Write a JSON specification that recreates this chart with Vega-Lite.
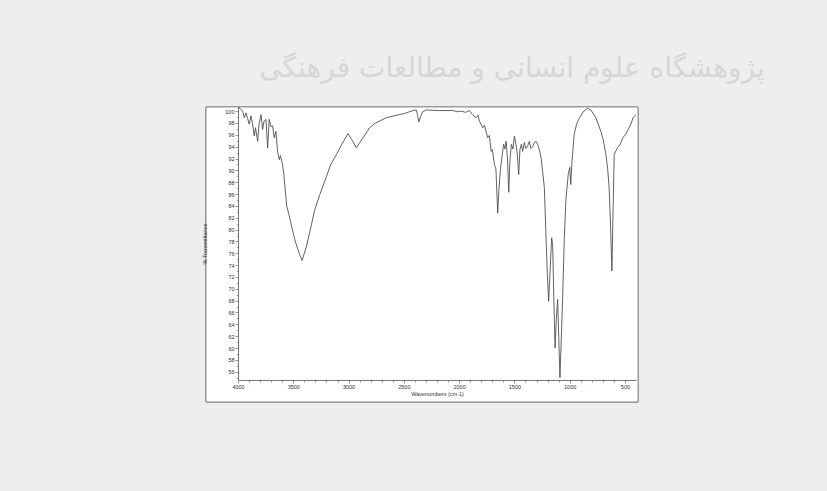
{
  "$schema": "https://vega.github.io/schema/vega-lite/v6.json",
  "autosize": {"type": "none"},
  "width": 398,
  "height": 273,
  "padding": {"left": 238, "top": 107, "right": 191, "bottom": 111},
  "background": "#eeeeee",
  "config": {"view": {"stroke": null}, "font": "Liberation Sans"},
  "title": {
    "text": "پژوهشگاه علوم انسانی و مطالعات فرهنگی",
    "font": "DejaVu Sans",
    "fontSize": 28,
    "fontWeight": "normal",
    "color": "#d6d6d6",
    "anchor": "middle",
    "dx": 75,
    "offset": 24,
    "zindex": 0
  },
  "data": {
    "values": [
      {"w": 4000, "t": 100.6}, {"w": 3982, "t": 100.5}, {"w": 3958, "t": 100.0}, {"w": 3943, "t": 98.9},
      {"w": 3928, "t": 99.7}, {"w": 3914, "t": 98.8}, {"w": 3898, "t": 97.8}, {"w": 3883, "t": 99.2},
      {"w": 3869, "t": 97.9}, {"w": 3853, "t": 95.8}, {"w": 3842, "t": 97.2}, {"w": 3822, "t": 94.9},
      {"w": 3810, "t": 97.8}, {"w": 3792, "t": 99.4}, {"w": 3777, "t": 96.9}, {"w": 3765, "t": 98.3},
      {"w": 3747, "t": 98.6}, {"w": 3732, "t": 93.8}, {"w": 3718, "t": 98.6}, {"w": 3702, "t": 97.4},
      {"w": 3687, "t": 97.5}, {"w": 3672, "t": 95.5}, {"w": 3657, "t": 96.6}, {"w": 3642, "t": 93.2},
      {"w": 3627, "t": 91.8}, {"w": 3616, "t": 92.5}, {"w": 3597, "t": 91.0}, {"w": 3585, "t": 89.3},
      {"w": 3560, "t": 84.0}, {"w": 3540, "t": 82.6}, {"w": 3513, "t": 80.4}, {"w": 3486, "t": 78.3},
      {"w": 3458, "t": 76.6}, {"w": 3436, "t": 75.5}, {"w": 3420, "t": 74.8}, {"w": 3404, "t": 75.8},
      {"w": 3380, "t": 77.2}, {"w": 3350, "t": 79.7}, {"w": 3305, "t": 83.4}, {"w": 3260, "t": 85.9},
      {"w": 3199, "t": 89.0}, {"w": 3161, "t": 91.0}, {"w": 3109, "t": 92.7}, {"w": 3061, "t": 94.4},
      {"w": 3005, "t": 96.2}, {"w": 2971, "t": 95.2}, {"w": 2929, "t": 93.8}, {"w": 2899, "t": 94.7},
      {"w": 2869, "t": 95.5}, {"w": 2809, "t": 97.2}, {"w": 2764, "t": 97.9}, {"w": 2658, "t": 98.9},
      {"w": 2568, "t": 99.3}, {"w": 2493, "t": 99.6}, {"w": 2418, "t": 100.1}, {"w": 2387, "t": 100.2},
      {"w": 2376, "t": 99.3}, {"w": 2364, "t": 98.2}, {"w": 2348, "t": 99.1}, {"w": 2330, "t": 99.9},
      {"w": 2297, "t": 100.2}, {"w": 2177, "t": 100.1}, {"w": 2057, "t": 100.1}, {"w": 2014, "t": 99.9},
      {"w": 1978, "t": 100.0}, {"w": 1942, "t": 99.8}, {"w": 1906, "t": 100.1}, {"w": 1879, "t": 99.4},
      {"w": 1846, "t": 98.9}, {"w": 1829, "t": 99.3}, {"w": 1816, "t": 98.3}, {"w": 1786, "t": 97.2},
      {"w": 1771, "t": 97.6}, {"w": 1741, "t": 95.5}, {"w": 1726, "t": 95.9}, {"w": 1710, "t": 93.2},
      {"w": 1699, "t": 93.5}, {"w": 1681, "t": 91.0}, {"w": 1667, "t": 90.2}, {"w": 1651, "t": 82.8},
      {"w": 1640, "t": 86.8}, {"w": 1626, "t": 90.2}, {"w": 1613, "t": 92.2}, {"w": 1597, "t": 94.4},
      {"w": 1586, "t": 93.6}, {"w": 1575, "t": 94.9}, {"w": 1563, "t": 92.2}, {"w": 1551, "t": 86.3},
      {"w": 1540, "t": 91.8}, {"w": 1527, "t": 94.4}, {"w": 1513, "t": 93.6}, {"w": 1500, "t": 95.8},
      {"w": 1486, "t": 94.4}, {"w": 1473, "t": 92.7}, {"w": 1461, "t": 89.3}, {"w": 1450, "t": 93.5},
      {"w": 1437, "t": 94.4}, {"w": 1425, "t": 93.2}, {"w": 1410, "t": 94.7}, {"w": 1396, "t": 93.7},
      {"w": 1380, "t": 94.1}, {"w": 1365, "t": 94.9}, {"w": 1351, "t": 93.7}, {"w": 1335, "t": 94.0},
      {"w": 1320, "t": 94.7}, {"w": 1304, "t": 94.9}, {"w": 1290, "t": 94.4}, {"w": 1274, "t": 93.5},
      {"w": 1259, "t": 92.1}, {"w": 1247, "t": 90.2}, {"w": 1229, "t": 87.1}, {"w": 1216, "t": 80.0},
      {"w": 1202, "t": 72.4}, {"w": 1190, "t": 67.9}, {"w": 1179, "t": 72.4}, {"w": 1163, "t": 78.6},
      {"w": 1154, "t": 77.5}, {"w": 1143, "t": 68.2}, {"w": 1132, "t": 60.0}, {"w": 1121, "t": 64.8},
      {"w": 1109, "t": 68.2}, {"w": 1098, "t": 61.4}, {"w": 1088, "t": 55.0}, {"w": 1076, "t": 61.4},
      {"w": 1064, "t": 68.2}, {"w": 1049, "t": 78.3}, {"w": 1034, "t": 85.1}, {"w": 1013, "t": 89.3},
      {"w": 999, "t": 90.5}, {"w": 990, "t": 87.6}, {"w": 981, "t": 91.0}, {"w": 959, "t": 96.1},
      {"w": 936, "t": 97.9}, {"w": 913, "t": 98.8}, {"w": 877, "t": 99.9}, {"w": 838, "t": 100.5},
      {"w": 805, "t": 100.1}, {"w": 763, "t": 98.9}, {"w": 718, "t": 96.6}, {"w": 697, "t": 95.2},
      {"w": 672, "t": 92.7}, {"w": 656, "t": 90.2}, {"w": 643, "t": 87.1}, {"w": 629, "t": 80.0},
      {"w": 618, "t": 73.0}, {"w": 609, "t": 81.7}, {"w": 597, "t": 92.7}, {"w": 568, "t": 93.8},
      {"w": 543, "t": 94.4}, {"w": 516, "t": 95.6}, {"w": 492, "t": 96.1}, {"w": 471, "t": 96.9},
      {"w": 447, "t": 97.8}, {"w": 426, "t": 98.9}, {"w": 402, "t": 99.4}
    ]
  },
  "layer": [
    {
      "mark": {"type": "rect", "fill": "#ffffff", "stroke": "#9a9a9a", "strokeWidth": 1, "clip": false},
      "encoding": {
        "x": {
          "datum": 4289, "type": "quantitative",
          "scale": {"domain": [4000, 400], "nice": false, "zero": false},
          "axis": {
            "zindex": 1,
            "format": "d",
            "values": [500,600,700,800,900,1000,1100,1200,1300,1400,1500,1600,1700,1800,1900,2000,2100,2200,2300,2400,2500,2600,2700,2800,2900,3000,3100,3200,3300,3400,3500,3600,3700,3800,3900,4000],
            "labelExpr": "datum.value % 500 === 0 ? datum.label : ''",
            "title": "Wavenumbers (cm-1)",
            "titleFontSize": 5.5,
            "titleFontWeight": "normal",
            "titleColor": "#333333",
            "titlePadding": 2,
            "labelFontSize": 5.5,
            "labelColor": "#333333",
            "labelPadding": 1,
            "labelFlush": false,
            "labelOverlap": false,
            "labelBound": false,
            "domainColor": "#555555",
            "domainWidth": 0.8,
            "tickColor": "#555555",
            "tickWidth": 0.6,
            "tickSize": {"condition": {"test": "datum.value % 500 === 0", "value": 3}, "value": 2},
            "grid": false
          }
        },
        "x2": {"datum": 382},
        "y": {
          "datum": 50.9, "type": "quantitative",
          "scale": {"domain": [54.6, 100.7], "nice": false, "zero": false},
          "axis": {
            "zindex": 1,
            "format": "d",
            "values": [55,56,57,58,59,60,61,62,63,64,65,66,67,68,69,70,71,72,73,74,75,76,77,78,79,80,81,82,83,84,85,86,87,88,89,90,91,92,93,94,95,96,97,98,99,100],
            "labelExpr": "datum.value % 2 === 0 ? datum.label : ''",
            "title": "% Transmittance",
            "titleFontSize": 5.5,
            "titleFontWeight": "normal",
            "titleColor": "#333333",
            "titlePadding": 17,
            "labelFontSize": 5.5,
            "labelColor": "#333333",
            "labelPadding": 1,
            "labelFlush": false,
            "labelOverlap": false,
            "labelBound": false,
            "domainColor": "#555555",
            "domainWidth": 0.8,
            "tickColor": "#555555",
            "tickWidth": 0.6,
            "tickSize": {"condition": {"test": "datum.value % 2 === 0", "value": 3}, "value": 1.5},
            "grid": false
          }
        },
        "y2": {"datum": 100.7}
      }
    },
    {
      "mark": {"type": "line", "color": "#505050", "strokeWidth": 0.9, "clip": true},
      "encoding": {
        "x": {
          "field": "w", "type": "quantitative", "sort": null,
          "scale": {"domain": [4000, 400], "nice": false, "zero": false},
          "axis": {
            "zindex": 1,
            "format": "d",
            "values": [500,600,700,800,900,1000,1100,1200,1300,1400,1500,1600,1700,1800,1900,2000,2100,2200,2300,2400,2500,2600,2700,2800,2900,3000,3100,3200,3300,3400,3500,3600,3700,3800,3900,4000],
            "labelExpr": "datum.value % 500 === 0 ? datum.label : ''",
            "title": "Wavenumbers (cm-1)",
            "titleFontSize": 5.5,
            "titleFontWeight": "normal",
            "titleColor": "#333333",
            "titlePadding": 2,
            "labelFontSize": 5.5,
            "labelColor": "#333333",
            "labelPadding": 1,
            "labelFlush": false,
            "labelOverlap": false,
            "labelBound": false,
            "domainColor": "#555555",
            "domainWidth": 0.8,
            "tickColor": "#555555",
            "tickWidth": 0.6,
            "tickSize": {"condition": {"test": "datum.value % 500 === 0", "value": 3}, "value": 2},
            "grid": false
          }
        },
        "y": {
          "field": "t", "type": "quantitative",
          "scale": {"domain": [54.6, 100.7], "nice": false, "zero": false},
          "axis": {
            "zindex": 1,
            "format": "d",
            "values": [55,56,57,58,59,60,61,62,63,64,65,66,67,68,69,70,71,72,73,74,75,76,77,78,79,80,81,82,83,84,85,86,87,88,89,90,91,92,93,94,95,96,97,98,99,100],
            "labelExpr": "datum.value % 2 === 0 ? datum.label : ''",
            "title": "% Transmittance",
            "titleFontSize": 5.5,
            "titleFontWeight": "normal",
            "titleColor": "#333333",
            "titlePadding": 17,
            "labelFontSize": 5.5,
            "labelColor": "#333333",
            "labelPadding": 1,
            "labelFlush": false,
            "labelOverlap": false,
            "labelBound": false,
            "domainColor": "#555555",
            "domainWidth": 0.8,
            "tickColor": "#555555",
            "tickWidth": 0.6,
            "tickSize": {"condition": {"test": "datum.value % 2 === 0", "value": 3}, "value": 1.5},
            "grid": false
          }
        }
      }
    }
  ]
}
